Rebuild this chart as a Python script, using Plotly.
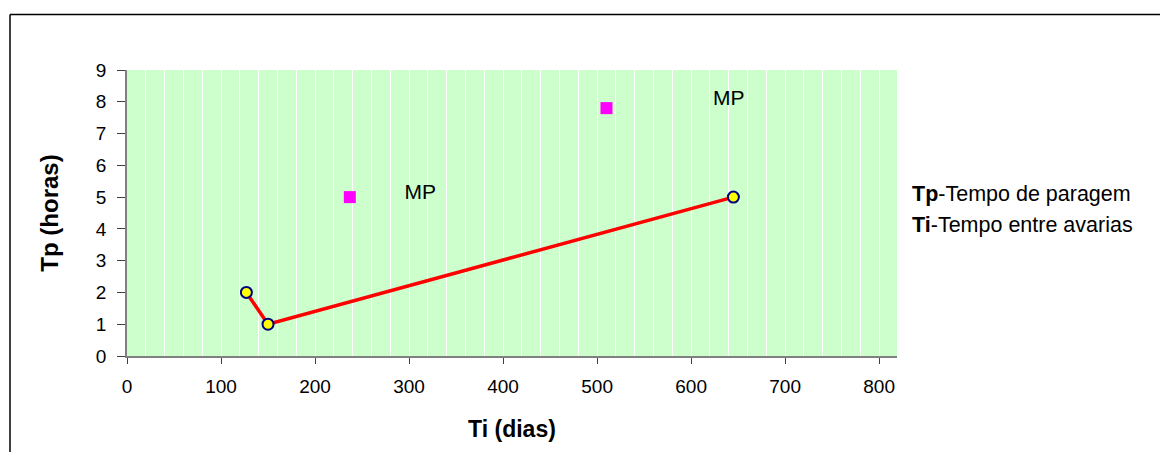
import plotly.graph_objects as go

# Data
ti_line = [127, 150, 645]
tp_line = [2, 1, 5]
mp_ti = [237, 510]
mp_tp = [5, 7.8]
mp_label_ti = [312, 640]
mp_label_tp = [5.1, 8.05]
mp_labels = ["MP", "MP"]
x_ticks = [0, 100, 200, 300, 400, 500, 600, 700, 800]
y_ticks = [0, 1, 2, 3, 4, 5, 6, 7, 8, 9]

FONT = "Arial, Liberation Sans, sans-serif"

fig = go.Figure()
fig.add_trace(go.Scatter(
    x=ti_line, y=tp_line, mode="lines+markers",
    line=dict(color="#FF0000", width=3.5),
    marker=dict(color="#FFFF00", size=11, line=dict(color="#000080", width=2)),
    showlegend=False, hoverinfo="x+y"))
fig.add_trace(go.Scatter(
    x=mp_ti, y=mp_tp, mode="markers",
    marker=dict(color="#FF00FF", size=12, symbol="square"),
    showlegend=False))
fig.add_trace(go.Scatter(
    x=mp_label_ti, y=mp_label_tp, mode="text", text=mp_labels,
    textfont=dict(family=FONT, size=21, color="black"),
    textposition="middle center", showlegend=False, hoverinfo="skip"))

L, R, T, B = 127, 263, 70, 96
W, H = 1160, 452
pw = W - L - R
ph = H - T - B

def px_x(p):
    return (p - L) / pw

def px_y(p):
    return (H - B - p) / ph

fig.update_layout(
    width=W, height=H,
    margin=dict(l=L, r=R, t=T, b=B, pad=0),
    paper_bgcolor="white", plot_bgcolor="#CCFFCC",
    font=dict(family=FONT, size=18, color="black"),
    xaxis=dict(
        range=[0, 819], tickmode="array", tickvals=x_ticks,
        ticks="outside", ticklen=6, tickcolor="#404040", tickwidth=1,
        ticklabelstandoff=6,
        showline=True, linecolor="#808080", linewidth=1.5,
        showgrid=True, gridcolor="white", gridwidth=1,
        minor=dict(dtick=20, tick0=0, showgrid=True, gridcolor="white", gridwidth=1),
        zeroline=False,
        title=dict(text="<b>Ti (dias)</b>", font=dict(size=23), standoff=25),
        tickfont=dict(size=19),
    ),
    yaxis=dict(
        range=[0, 9], tickmode="array", tickvals=y_ticks,
        ticks="outside", ticklen=8, tickcolor="#404040", tickwidth=1,
        ticklabelstandoff=7,
        showline=True, linecolor="#808080", linewidth=1.5,
        showgrid=False, zeroline=False,
        title=dict(text="<b>Tp (horas)</b>", font=dict(size=24), standoff=30),
        tickfont=dict(size=19),
    ),
    annotations=[
        dict(xref="paper", yref="paper", x=px_x(910), y=px_y(194), xanchor="left",
             yanchor="middle", showarrow=False, align="left",
             text="<b>Tp</b>-Tempo de paragem", font=dict(size=21.5)),
        dict(xref="paper", yref="paper", x=px_x(910), y=px_y(225), xanchor="left",
             yanchor="middle", showarrow=False, align="left",
             text="<b>Ti</b>-Tempo entre avarias", font=dict(size=21.5)),
    ],
    shapes=[
        dict(type="line", xref="paper", yref="paper",
             x0=px_x(10), x1=px_x(10), y0=px_y(14.5), y1=px_y(470),
             line=dict(color="black", width=1.5)),
        dict(type="line", xref="paper", yref="paper",
             x0=px_x(10), x1=px_x(1170), y0=px_y(14.5), y1=px_y(14.5),
             line=dict(color="black", width=1.5)),
    ],
)

fig.write_html("out.html")
